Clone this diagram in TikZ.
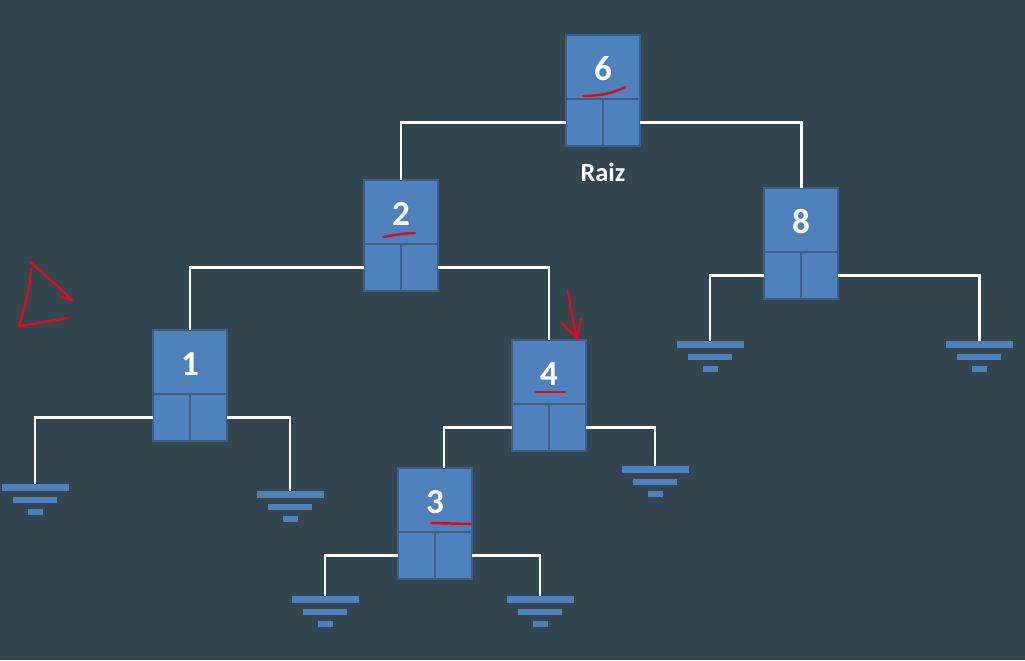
\documentclass[tikz,border=0pt]{standalone}
\usepackage{fontspec}
\setmainfont{Carlito}
\usetikzlibrary{positioning}
\usetikzlibrary{arrows.meta}

\definecolor{bgslate}{HTML}{33454E}
\definecolor{boxblue}{HTML}{4F81BD}
\definecolor{boxline}{HTML}{3A5E8A}
\definecolor{penred}{HTML}{D3101E}

\tikzset{
  keytop/.style={draw=boxline, line width=1.2pt, fill=boxblue, minimum width=1.48cm,
    minimum height=1.28cm, inner sep=0pt, outer sep=0pt, anchor=north, text=white,
    text height=0.56cm, text depth=0pt,
    font=\fontsize{20}{24}\selectfont\bfseries},
  keyptr/.style={draw=boxline, line width=1.2pt, fill=boxblue, minimum width=1.48cm,
    minimum height=0.94cm, inner sep=0pt, outer sep=0pt},
  divider/.style={boxline, line width=1.2pt},
  edge/.style={white, line width=1.7pt},
  pen/.style={penred, line width=1.4pt, line cap=round, line join=round},
}

\begin{document}
\begin{tikzpicture}[x=0.02cm, y=-0.02cm]
\fill[bgslate] (0,0) rectangle (1025,660);
\useasboundingbox (0,0) rectangle (1025,660);

% nodes of the tree
\foreach \nm/\cx/\cy/\val in {n6/603/35/6, n2/401/180/2, n8/801/188/8,
                             n1/190/330/1, n4/549/340/4, n3/435/468/3}{
  \node[keytop] (\nm) at (\cx,\cy) {\val};
  \node[keyptr, below=0pt of \nm] (\nm-b) {};
  \draw[divider] (\nm-b.north) -- (\nm-b.south);
}

\node[below=0.33cm of n6-b, inner sep=0pt, text=white,
  font=\fontsize{15}{18}\selectfont\bfseries] (raiz) {Raiz};

% null pointers
\foreach \gn/\gx/\gy in {g1a/35/484, g1b/290/491, g8a/710/341, g8b/979/341,
                         g4b/655/466, g3a/325/596, g3b/540/596}{
  \coordinate (\gn) at (\gx,\gy);
  \begin{scope}[shift={(\gx,\gy)}]
    \fill[boxblue] (-33.5,0) rectangle (33.5,7);
    \fill[boxblue] (-22,13) rectangle (22,19);
    \fill[boxblue] (-7.5,25) rectangle (7.5,31);
  \end{scope}
}

% links
\draw[edge] (n6-b.west) -| (n2.north);
\draw[edge] (n6-b.east) -| (n8.north);
\draw[edge] (n2-b.west) -| (n1.north);
\draw[edge] (n2-b.east) -| (n4.north);
\draw[edge] (n8-b.west) -| (g8a);
\draw[edge] (n8-b.east) -| (g8b);
\draw[edge] (n1-b.west) -| (g1a);
\draw[edge] (n1-b.east) -| (g1b);
\draw[edge] (n4-b.west) -| ([xshift=0.18cm]n3.north);
\draw[edge] (n4-b.east) -| (g4b);
\draw[edge] (n3-b.west) -| (g3a);
\draw[edge] (n3-b.east) -| (g3b);

% red pen marks
\draw[pen] (583,96) .. controls (600,96) and (614,93) .. (625,87);
\draw[pen] (383,237) .. controls (395,235) and (405,233) .. (415,233);
\draw[pen] (536,392) -- (565,392);
\draw[pen] (431,523) -- (471,524);
\draw[pen] (568,290) .. controls (570,305) and (573,322) .. (577,339);
\draw[pen] (562,323) -- (577,339) -- (581,319);
\draw[pen] (30,262) .. controls (45,275) and (60,288) .. (72,300) -- (61,297);
\draw[pen] (31,268) .. controls (30,290) and (24,310) .. (19,326)
  .. controls (35,324) and (55,320) .. (68,318);
\end{tikzpicture}
\end{document}
